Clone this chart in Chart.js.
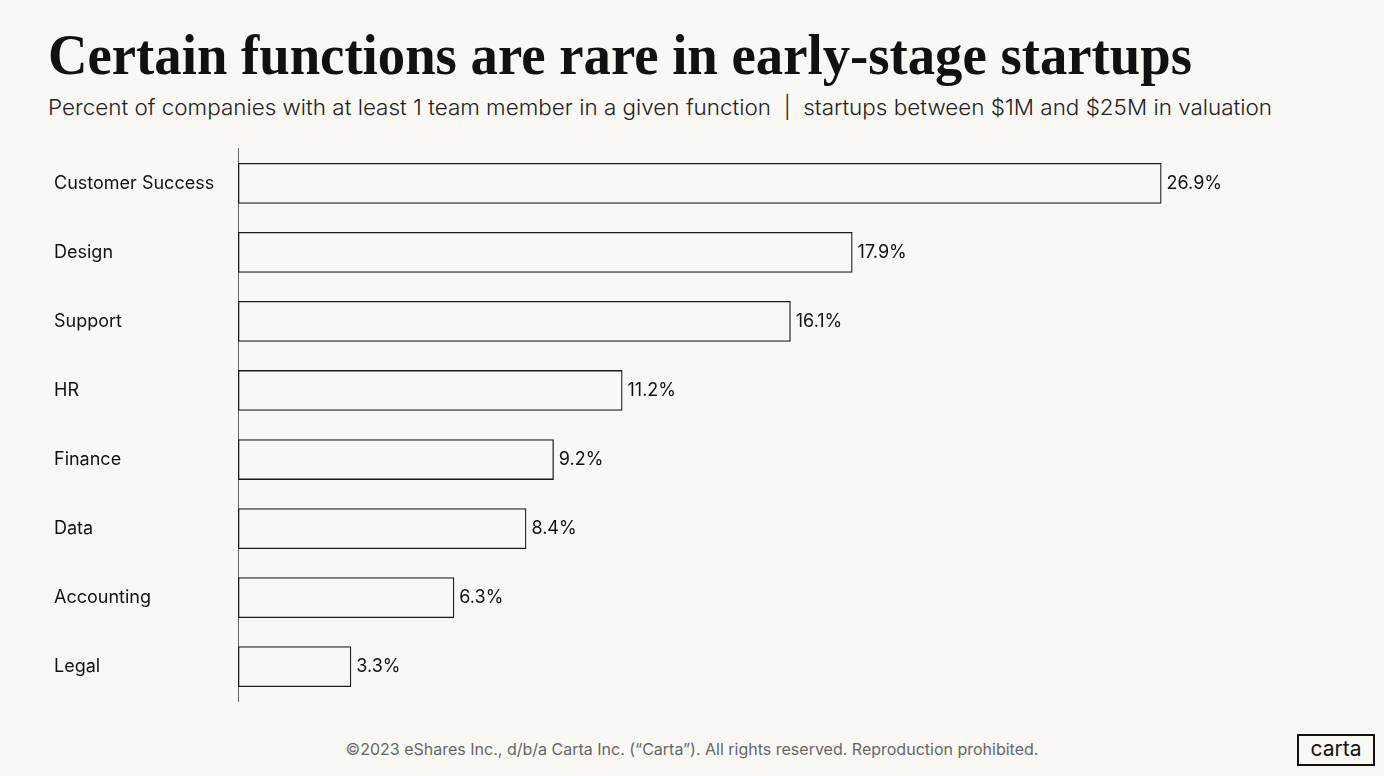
<!DOCTYPE html>
<html>
<head>
<meta charset="utf-8">
<script src="https://cdn.jsdelivr.net/npm/chart.js@4"></script>
<style>
  html, body { margin: 0; padding: 0; background: #faf8f4; width: 1384px; height: 776px; overflow: hidden; }
  #title { position: absolute; left: 48px; top: 20px; font-family: "Liberation Serif", serif; font-weight: bold; font-size: 56px; line-height: 70px; color: #111; white-space: nowrap; transform-origin: 0 0; }
  #subtitle { position: absolute; left: 48px; top: 94px; font-family: "Inter", sans-serif; font-weight: 300; font-size: 22px; color: #222; white-space: nowrap; transform-origin: 0 0; }
  #footer { position: absolute; left: 0; width: 1384px; top: 739px; text-align: center; font-family: "Inter", sans-serif; font-size: 16px; color: #666; white-space: nowrap; }
  #logo { position: absolute; left: 1297px; top: 734px; width: 74px; height: 28px; border: 2px solid #111; font-family: "Inter", sans-serif; font-size: 21px; color: #111; text-align: center; line-height: 26px; box-sizing: content-box; }
  #wrap { position: absolute; left: 0; top: 138px; width: 1384px; height: 574px; }
</style>
</head>
<body>
<div id="title">Certain functions are rare in early-stage startups</div>
<div id="subtitle">Percent of companies with at least 1 team member in a given function &nbsp;|&nbsp; startups between $1M and $25M in valuation</div>
<div id="wrap"><canvas id="c"></canvas></div>
<div id="footer">©2023 eShares Inc., d/b/a Carta Inc. (“Carta”). All rights reserved. Reproduction prohibited.</div>
<div id="logo">carta</div>
<script>
const categories = ["Customer Success", "Design", "Support", "HR", "Finance", "Data", "Accounting", "Legal"];
const values = [26.9, 17.9, 16.1, 11.2, 9.2, 8.4, 6.3, 3.3];
const valueLabels = ["26.9%", "17.9%", "16.1%", "11.2%", "9.2%", "8.4%", "6.3%", "3.3%"];

function fitWidth(id, target) {
  const el = document.getElementById(id);
  const w = el.getBoundingClientRect().width;
  if (w > 0) el.style.transform = 'scaleX(' + (target / w) + ')';
}
fitWidth('title', 1144);
fitWidth('subtitle', 1224);

const endLabels = {
  id: 'endLabels',
  afterDatasetsDraw(chart) {
    const ctx = chart.ctx;
    const meta = chart.getDatasetMeta(0);
    ctx.save();
    ctx.font = '18px Inter, sans-serif';
    ctx.fillStyle = '#111';
    ctx.textBaseline = 'middle';
    ctx.textAlign = 'left';
    meta.data.forEach((bar, i) => {
      ctx.fillText(valueLabels[i], bar.x + 5, bar.y);
    });
    ctx.restore();
  }
};

new Chart(document.getElementById('c'), {
  type: 'bar',
  data: {
    labels: categories,
    datasets: [{
      data: values,
      backgroundColor: 'rgba(0,0,0,0)',
      borderColor: '#1a1a1a',
      borderWidth: 1.3,
      borderSkipped: false,
      barPercentage: 0.59,
      categoryPercentage: 1.0
    }]
  },
  options: {
    indexAxis: 'y',
    responsive: true,
    maintainAspectRatio: false,
    animation: false,
    layout: { padding: { left: 54, right: 116, top: 0, bottom: 0 } },
    plugins: { legend: { display: false }, tooltip: { enabled: false } },
    scales: {
      x: { display: false, min: 0, max: 30 },
      y: {
        grid: { display: false, drawTicks: false },
        border: { display: true, color: '#666', width: 1 },
        ticks: { color: '#111', font: { family: 'Inter, sans-serif', size: 18 }, crossAlign: 'far', padding: 0 },
        afterFit(scale) { scale.width = 184; }
      }
    }
  },
  plugins: [endLabels]
});
</script>
</body>
</html>
